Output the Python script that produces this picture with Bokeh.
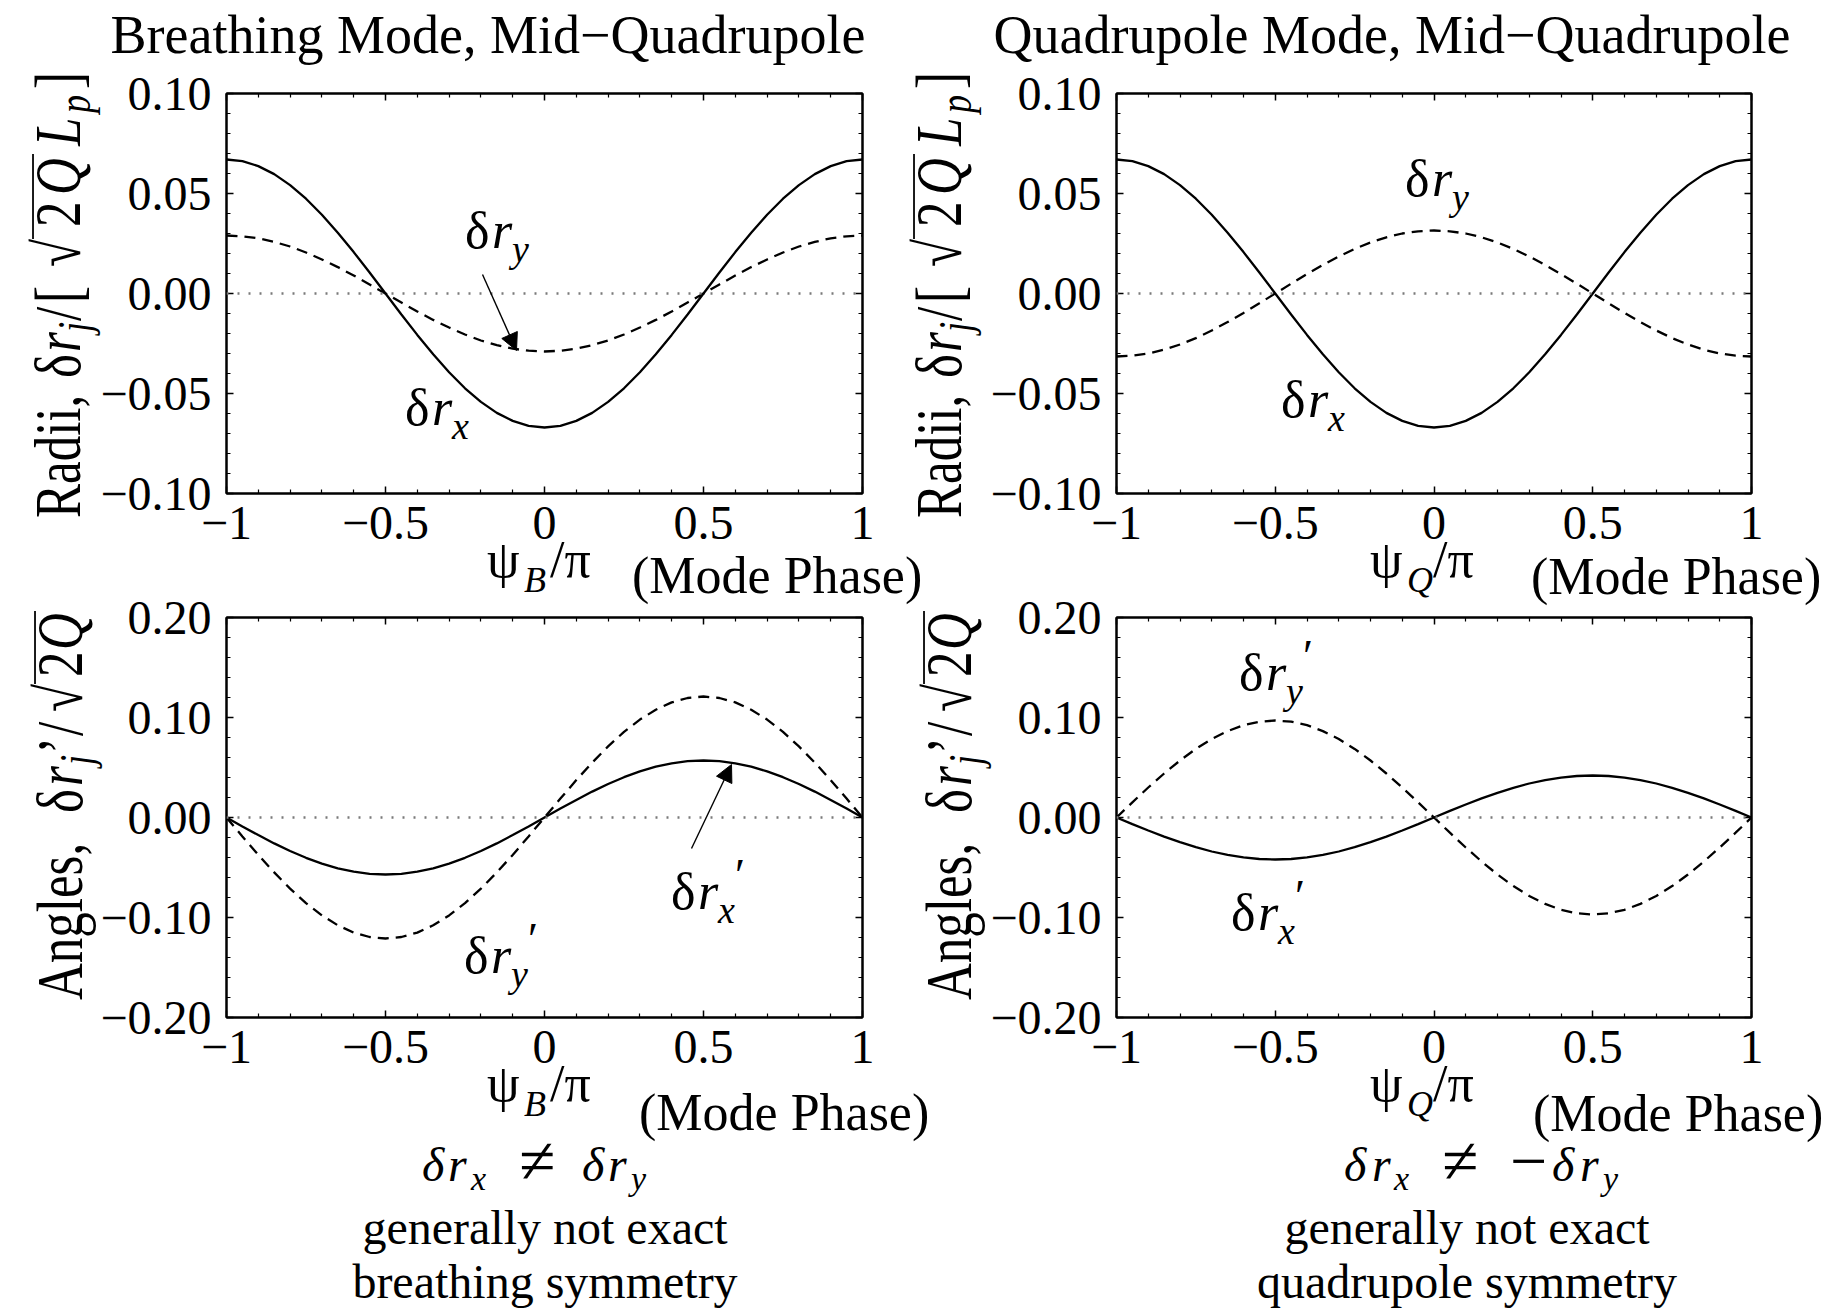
import math
from bokeh.plotting import figure
from bokeh.layouts import row, column
from bokeh.models import (LinearAxis, FixedTicker, CustomJSTickFormatter,
                          Arrow, NormalHead, Span, Range1d, Div)
from bokeh.embed import file_html
from bokeh.resources import INLINE

FONT = "Liberation Serif"

# ---------------- data ----------------
psi = [-1.00, -0.95, -0.90, -0.85, -0.80, -0.75, -0.70, -0.65, -0.60, -0.55,
       -0.50, -0.45, -0.40, -0.35, -0.30, -0.25, -0.20, -0.15, -0.10, -0.05,
       0.00, 0.05, 0.10, 0.15, 0.20, 0.25, 0.30, 0.35, 0.40, 0.45,
       0.50, 0.55, 0.60, 0.65, 0.70, 0.75, 0.80, 0.85, 0.90, 0.95, 1.00]

breathing_dr_x = [0.067, 0.0662, 0.0637, 0.0597, 0.0542, 0.0474, 0.0394, 0.0304, 0.0207, 0.0105,
                  0.0, -0.0105, -0.0207, -0.0304, -0.0394, -0.0474, -0.0542, -0.0597, -0.0637, -0.0662,
                  -0.067, -0.0662, -0.0637, -0.0597, -0.0542, -0.0474, -0.0394, -0.0304, -0.0207, -0.0105,
                  0.0, 0.0105, 0.0207, 0.0304, 0.0394, 0.0474, 0.0542, 0.0597, 0.0637, 0.0662, 0.067]
breathing_dr_y = [0.029, 0.0286, 0.0276, 0.0258, 0.0235, 0.0205, 0.0170, 0.0132, 0.0090, 0.0045,
                  0.0, -0.0045, -0.0090, -0.0132, -0.0170, -0.0205, -0.0235, -0.0258, -0.0276, -0.0286,
                  -0.029, -0.0286, -0.0276, -0.0258, -0.0235, -0.0205, -0.0170, -0.0132, -0.0090, -0.0045,
                  0.0, 0.0045, 0.0090, 0.0132, 0.0170, 0.0205, 0.0235, 0.0258, 0.0276, 0.0286, 0.029]
quad_dr_x = [0.067, 0.0662, 0.0637, 0.0597, 0.0542, 0.0474, 0.0394, 0.0304, 0.0207, 0.0105,
             0.0, -0.0105, -0.0207, -0.0304, -0.0394, -0.0474, -0.0542, -0.0597, -0.0637, -0.0662,
             -0.067, -0.0662, -0.0637, -0.0597, -0.0542, -0.0474, -0.0394, -0.0304, -0.0207, -0.0105,
             0.0, 0.0105, 0.0207, 0.0304, 0.0394, 0.0474, 0.0542, 0.0597, 0.0637, 0.0662, 0.067]
quad_dr_y = [-0.0315, -0.0311, -0.0300, -0.0281, -0.0255, -0.0223, -0.0185, -0.0143, -0.0097, -0.0049,
             0.0, 0.0049, 0.0097, 0.0143, 0.0185, 0.0223, 0.0255, 0.0281, 0.0300, 0.0311,
             0.0315, 0.0311, 0.0300, 0.0281, 0.0255, 0.0223, 0.0185, 0.0143, 0.0097, 0.0049,
             0.0, -0.0049, -0.0097, -0.0143, -0.0185, -0.0223, -0.0255, -0.0281, -0.0300, -0.0311, -0.0315]
breathing_dxp = [0.0, -0.0089, -0.0176, -0.0259, -0.0335, -0.0403, -0.0461, -0.0508, -0.0542, -0.0563,
                 -0.057, -0.0563, -0.0542, -0.0508, -0.0461, -0.0403, -0.0335, -0.0259, -0.0176, -0.0089,
                 0.0, 0.0089, 0.0176, 0.0259, 0.0335, 0.0403, 0.0461, 0.0508, 0.0542, 0.0563,
                 0.057, 0.0563, 0.0542, 0.0508, 0.0461, 0.0403, 0.0335, 0.0259, 0.0176, 0.0089, 0.0]
breathing_dyp = [0.0, -0.0189, -0.0374, -0.0549, -0.0711, -0.0856, -0.0979, -0.1078, -0.1151, -0.1195,
                 -0.121, -0.1195, -0.1151, -0.1078, -0.0979, -0.0856, -0.0711, -0.0549, -0.0374, -0.0189,
                 0.0, 0.0189, 0.0374, 0.0549, 0.0711, 0.0856, 0.0979, 0.1078, 0.1151, 0.1195,
                 0.121, 0.1195, 0.1151, 0.1078, 0.0979, 0.0856, 0.0711, 0.0549, 0.0374, 0.0189, 0.0]
quad_dxp = [0.0, -0.0066, -0.0130, -0.0191, -0.0247, -0.0297, -0.0340, -0.0374, -0.0399, -0.0415,
            -0.042, -0.0415, -0.0399, -0.0374, -0.0340, -0.0297, -0.0247, -0.0191, -0.0130, -0.0066,
            0.0, 0.0066, 0.0130, 0.0191, 0.0247, 0.0297, 0.0340, 0.0374, 0.0399, 0.0415,
            0.042, 0.0415, 0.0399, 0.0374, 0.0340, 0.0297, 0.0247, 0.0191, 0.0130, 0.0066, 0.0]
quad_dyp = [0.0, 0.0152, 0.0300, 0.0440, 0.0570, 0.0686, 0.0785, 0.0864, 0.0923, 0.0958,
            0.097, 0.0958, 0.0923, 0.0864, 0.0785, 0.0686, 0.0570, 0.0440, 0.0300, 0.0152,
            0.0, -0.0152, -0.0300, -0.0440, -0.0570, -0.0686, -0.0785, -0.0864, -0.0923, -0.0958,
            -0.097, -0.0958, -0.0923, -0.0864, -0.0785, -0.0686, -0.0570, -0.0440, -0.0300, -0.0152, 0.0]

x_ticks = [-1, -0.5, 0, 0.5, 1]
x_minor = [-0.9, -0.8, -0.7, -0.6, -0.4, -0.3, -0.2, -0.1, 0.1, 0.2, 0.3, 0.4, 0.6, 0.7, 0.8, 0.9]
radii_ticks = [-0.1, -0.05, 0, 0.05, 0.1]
radii_minor = [-0.09, -0.08, -0.07, -0.06, -0.04, -0.03, -0.02, -0.01,
               0.01, 0.02, 0.03, 0.04, 0.06, 0.07, 0.08, 0.09]
angle_ticks = [-0.2, -0.1, 0, 0.1, 0.2]
angle_minor = [-0.18, -0.16, -0.14, -0.12, -0.08, -0.06, -0.04, -0.02,
               0.02, 0.04, 0.06, 0.08, 0.12, 0.14, 0.16, 0.18]

titles = ["Breathing Mode, Mid\u2212Quadrupole", "Quadrupole Mode, Mid\u2212Quadrupole"]
phase_note = "(Mode Phase)"
notes = [["generally not exact", "breathing symmetry"],
         ["generally not exact", "quadrupole symmetry"]]

X_FMT = ("const a = Math.abs(tick); const s = Math.abs(a - Math.round(a)) < 1e-9 ? a.toFixed(0) : a.toFixed(1);"
         "return (tick < -1e-9 ? '\u2212' : '') + s;")
Y_FMT = "const a = Math.abs(tick); return (tick < -1e-9 ? '\u2212' : '') + a.toFixed(2);"


class Frame:
    """maps page pixel positions to data coordinates of one panel"""
    def __init__(self, fl, fr, ft, fb, y0, y1):
        self.fl, self.fr, self.ft, self.fb, self.y0, self.y1 = fl, fr, ft, fb, y0, y1

    def x(self, X):
        return -1 + (X - self.fl) * 2.0 / (self.fr - self.fl)

    def y(self, Y):
        return self.y1 - (Y - self.ft) * (self.y1 - self.y0) / (self.fb - self.ft)


def add_axis(p, side, ticks, minor, fmt, show):
    ax = LinearAxis(ticker=FixedTicker(ticks=ticks, minor_ticks=minor))
    ax.formatter = CustomJSTickFormatter(code=fmt if show else "return '';")
    ax.axis_line_color = "black"
    ax.axis_line_width = 2
    ax.major_tick_in = 7
    ax.major_tick_out = 0
    ax.minor_tick_in = 4
    ax.minor_tick_out = 0
    ax.major_tick_line_width = 1.5
    ax.minor_tick_line_width = 1.2
    ax.major_label_text_font = FONT
    ax.major_label_text_color = "black"
    if show:
        ax.major_label_text_font_size = "48px"
        ax.major_label_standoff = 15 if side == "left" else 13
    else:
        ax.major_label_text_font_size = "1px"
        ax.major_label_standoff = 0
    p.add_layout(ax, side)


def panel(width, height, bl, br, bt, bb, yr, yt, ym):
    p = figure(width=width, height=height, x_range=Range1d(-1, 1), y_range=Range1d(*yr),
               output_backend="svg", toolbar_location=None,
               x_axis_location=None, y_axis_location=None,
               min_border_left=bl, min_border_right=br, min_border_top=bt, min_border_bottom=bb)
    p.grid.visible = False
    p.outline_line_color = "black"
    p.outline_line_width = 2
    p.background_fill_color = "white"
    p.border_fill_color = "white"
    add_axis(p, "below", x_ticks, x_minor, X_FMT, True)
    add_axis(p, "left", yt, ym, Y_FMT, True)
    add_axis(p, "above", x_ticks, x_minor, X_FMT, False)
    add_axis(p, "right", yt, ym, Y_FMT, False)
    p.add_layout(Span(location=0, dimension="width", line_color="#7a7a7a",
                      line_width=2.5, line_dash="2 9"))
    return p


def arrow(p, F, X0, Y0, X1, Y1):
    p.add_layout(Arrow(x_start=F.x(X0), y_start=F.y(Y0), x_end=F.x(X1), y_end=F.y(Y1),
                       end=NormalHead(size=17, fill_color="black", line_color="black"),
                       line_color="black", line_width=1.4))


# ---------------- panels (page pixel geometry, canvas starts at 0,0) ----------------
F_TL = Frame(226, 862, 93, 493, -0.1, 0.1)
F_TR = Frame(1116, 1751, 93, 493, -0.1, 0.1)
F_BL = Frame(226, 862, 617, 1017, -0.2, 0.2)
F_BR = Frame(1116, 1751, 617, 1017, -0.2, 0.2)

p1 = panel(983, 590, 226, 121, 93, 97, (-0.1, 0.1), radii_ticks, radii_minor)
p2 = panel(855, 590, 133, 87, 93, 97, (-0.1, 0.1), radii_ticks, radii_minor)
p3 = panel(983, 720, 226, 121, 27, 293, (-0.2, 0.2), angle_ticks, angle_minor)
p4 = panel(855, 720, 133, 87, 27, 293, (-0.2, 0.2), angle_ticks, angle_minor)

DASH = "11 7"
LW = 2.3
p1.line(psi, breathing_dr_x, line_color="black", line_width=LW)
p1.line(psi, breathing_dr_y, line_color="black", line_width=LW, line_dash=DASH)
p2.line(psi, quad_dr_x, line_color="black", line_width=LW)
p2.line(psi, quad_dr_y, line_color="black", line_width=LW, line_dash=DASH)
p3.line(psi, breathing_dxp, line_color="black", line_width=LW)
p3.line(psi, breathing_dyp, line_color="black", line_width=LW, line_dash=DASH)
p4.line(psi, quad_dxp, line_color="black", line_width=LW)
p4.line(psi, quad_dyp, line_color="black", line_width=LW, line_dash=DASH)

arrow(p1, F_TL, 482, 274, 516, 350)
arrow(p3, F_BL, 691, 848, 731, 764)

# ---------------- all free text: one transparent SVG overlay ----------------
parts = []


def sty(size, style="normal"):
    return (f'style="font-family: \'Liberation Serif\', serif; font-size: {size}px; '
            f'font-style: {style}; font-weight: normal; fill: black;"')


def T(x, y, s, size, style="normal", anchor="start"):
    parts.append(f'<text x="{x}" y="{y}" text-anchor="{anchor}" {sty(size, style)}>{s}</text>')


def composite(x, y, pieces, size):
    """one text element; pieces = (text, x, y, size, style)"""
    spans = "".join(f'<tspan x="{px}" y="{py}" {sty(sz, st)}>{s}</tspan>'
                    for s, px, py, sz, st in pieces)
    return f'<text x="{x}" y="{y}" {sty(size)}>{spans}</text>'


def rot_label(bx, y0, pieces, bar):
    g = [f'<g transform="translate({bx},{y0}) rotate(-90) scale(1,1.27)">']
    g.append(composite(0, 0, [(s, lx, dy, sz, st) for s, lx, st, sz, dy in pieces], 51))
    x1, x2, yb = bar
    g.append(f'<line x1="{x1}" y1="{yb}" x2="{x2}" y2="{yb}" stroke="black" stroke-width="1.4"/>')
    g.append('</g>')
    parts.append("".join(g))


def dr_label(X, Y, sub, prime=False):
    pcs = [("\u03b4", X, Y, 52, "normal"), ("r", X + 27, Y, 52, "italic"),
           (sub, X + 47, Y + 14, 38, "italic")]
    if prime:
        pcs.append(("\u2032", X + 64, Y - 18, 46, "normal"))
    parts.append(composite(X, Y, pcs, 52))


RADII = [("Radii,", 0, "normal", 51, 0), ("\u03b4", 140, "normal", 51, 0), ("r", 166, "italic", 51, 0),
         ("j", 186, "italic", 36, 8), ("/", 197, "normal", 51, 0), ("[", 215, "normal", 51, 0),
         ("\u221a", 251, "normal", 51, 0), ("2", 291, "normal", 51, 0), ("Q", 323, "italic", 51, 0),
         ("L", 372, "italic", 51, 0), ("p", 405, "italic", 36, 8), ("]", 429, "normal", 51, 0)]
ANGLES = [("Angles,", 0, "normal", 51, 0), ("\u03b4", 187, "normal", 51, 0), ("r", 214, "italic", 51, 0),
          ("j", 235, "italic", 36, 8), ("\u2019", 246, "normal", 51, 0), ("/", 264, "normal", 51, 0),
          ("\u221a", 288, "normal", 51, 0), ("2", 323, "normal", 51, 0), ("Q", 350, "italic", 51, 0)]

rot_label(75, 513, RADII, (279, 364, -37))
rot_label(956, 513, RADII, (279, 364, -37))
rot_label(77, 995, ANGLES, (316, 389, -37))
rot_label(966, 995, ANGLES, (316, 389, -37))

T(483, 48, titles[0], 54, anchor="middle")
T(1387, 48, titles[1], 54, anchor="middle")

for (x0, yb, sub) in [(482, 572, "B"), (1365, 572, "Q"), (482, 1096, "B"), (1365, 1096, "Q")]:
    parts.append(composite(x0, yb, [("\u03c8", x0, yb, 52, "normal"),
                                    (sub, x0 + 37, yb + 15, 36, "italic"),
                                    ("/\u03c0", x0 + 63, yb, 52, "normal")], 52))

T(627, 588, phase_note, 52)
T(1526, 589, phase_note, 52)
T(634, 1125, phase_note, 52)
T(1528, 1126, phase_note, 52)

# curve labels inside the frames
dr_label(460, 243, "y")
dr_label(400, 420, "x")
dr_label(1400, 191, "y")
dr_label(1276, 412, "x")
dr_label(666, 904, "x", prime=True)
dr_label(459, 968, "y", prime=True)
dr_label(1234, 685, "y", prime=True)
dr_label(1226, 925, "x", prime=True)

# relations below the bottom panels
parts.append(composite(417, 1176, [("\u03b4", 417, 1176, 48, "italic"), ("r", 443, 1176, 48, "italic"),
                                   ("x", 466, 1185, 34, "italic"), ("\u2260", 514, 1178, 66, "normal"),
                                   ("\u03b4", 577, 1176, 48, "italic"), ("r", 603, 1176, 48, "italic"),
                                   ("y", 626, 1185, 34, "italic")], 48))
parts.append(composite(1339, 1176, [("\u03b4", 1339, 1176, 48, "italic"), ("r", 1367, 1176, 48, "italic"),
                                    ("x", 1389, 1185, 34, "italic"), ("\u2260", 1437, 1178, 66, "normal"),
                                    ("\u2212", 1505, 1178, 66, "normal"),
                                    ("\u03b4", 1547, 1176, 48, "italic"), ("r", 1575, 1176, 48, "italic"),
                                    ("y", 1598, 1185, 34, "italic")], 48))

T(540, 1239, notes[0][0], 48, anchor="middle")
T(540, 1293, notes[0][1], 48, anchor="middle")
T(1462, 1239, notes[1][0], 48, anchor="middle")
T(1462, 1293, notes[1][1], 48, anchor="middle")

svg = ('<svg xmlns="http://www.w3.org/2000/svg" width="1838" height="1310" '
       'style="display:block; font-family: \'Liberation Serif\', serif;">'
       + "".join(parts) + '</svg>')

overlay = Div(text=svg, width=1838, height=1310, disable_math=True,
              styles={"position": "absolute", "left": "0px", "top": "0px",
                      "z-index": "10", "pointer-events": "none"})

layout = column(row(p1, p2), row(p3, p4), overlay)
open("out.html", "w", encoding="utf-8").write(file_html(layout, INLINE))
